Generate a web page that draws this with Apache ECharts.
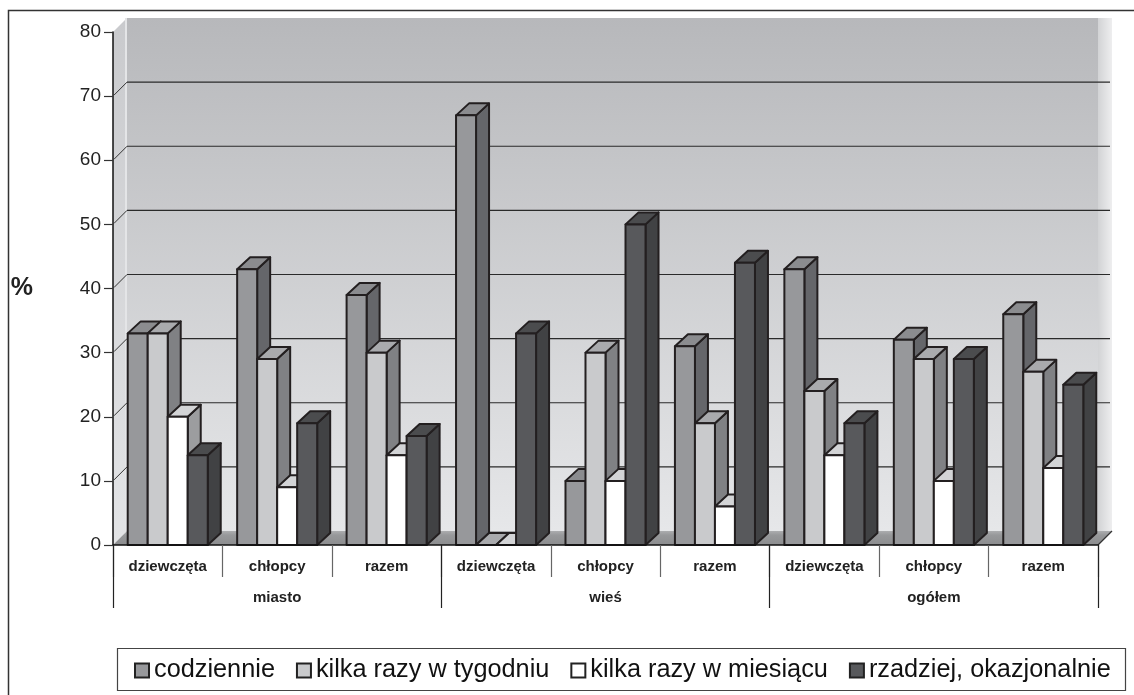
<!DOCTYPE html>
<html>
<head>
<meta charset="utf-8">
<script src="https://cdn.jsdelivr.net/npm/echarts@6/dist/echarts.min.js"></script>
<style>
html,body{margin:0;padding:0;background:#fff;}
#chart{width:1134px;height:695px;}
</style>
</head>
<body>
<div id="chart"></div>
<script>
// ---- data ----
const categories = ['dziewczęta','chłopcy','razem','dziewczęta','chłopcy','razem','dziewczęta','chłopcy','razem'];
const groups = ['miasto','wieś','ogółem'];
const seriesNames = ['codziennie','kilka razy w tygodniu','kilka razy w miesiącu','rzadziej, okazjonalnie'];
const codziennie = [33, 43, 39, 67, 10, 31, 43, 32, 36];
const kilkaTydzien = [33, 29, 30, 0, 30, 19, 24, 29, 27];
const kilkaMiesiac = [20, 9, 14, 0, 10, 6, 14, 10, 12];
const rzadziej = [14, 19, 17, 33, 50, 44, 19, 29, 25];
const yTicks = [0, 10, 20, 30, 40, 50, 60, 70, 80];

// ---- styling ----
const FONT = 'Liberation Sans, Arial, sans-serif';
const WDX = 14, WDY = -14;   // wall depth offset
const BDX = 13, BDY = -12;   // bar depth offset
const EDGE = '#231f20';
const faces = [
  {front:'#97989b', side:'#65666a', top:'#8b8c8f'},
  {front:'#c9cacc', side:'#808184', top:'#a9aaad'},
  {front:'#ffffff', side:'#9c9d9f', top:'#d3d4d6'},
  {front:'#58595c', side:'#414244', top:'#4b4c4e'}
];
const seriesData = [codziennie, kilkaTydzien, kilkaMiesiac, rzadziej];

const chart = echarts.init(document.getElementById('chart'), null, {renderer:'canvas'});

function barRender(sIdx) {
  return function (params, api) {
    const ci = api.value(0), v = api.value(1);
    const base = api.coord([ci, 0]);
    const top = api.coord([ci, v]);
    const catW = api.size([1, 0])[0];
    const bw = catW * 0.1828;
    const x0 = base[0] - 2 * bw + sIdx * bw;
    const x1 = x0 + bw;
    const yt = top[1], yb = base[1];
    const c = faces[sIdx];
    const st = {stroke: EDGE, lineWidth: 2, lineJoin: 'round'};
    return {
      type: 'group',
      children: [
        {type:'polygon', shape:{points:[[x1,yt],[x1+BDX,yt+BDY],[x1+BDX,yb+BDY],[x1,yb]]},
         style:Object.assign({fill:c.side}, st)},
        {type:'polygon', shape:{points:[[x0,yt],[x1,yt],[x1+BDX,yt+BDY],[x0+BDX,yt+BDY]]},
         style:Object.assign({fill:c.top}, st)},
        {type:'rect', shape:{x:x0, y:yt, width:bw, height:yb-yt},
         style:Object.assign({fill:c.front}, st)}
      ]
    };
  };
}

function wallRender(params, api) {
  const cs = params.coordSys;
  const L = cs.x, R = cs.x + cs.width, T = cs.y, B = cs.y + cs.height;
  const children = [];
  children.push({type:'rect', shape:{x:L+WDX, y:T+WDY, width:cs.width, height:cs.height},
    style:{fill:new echarts.graphic.LinearGradient(0,0,0,1,[{offset:0,color:'#b7b8bb'},{offset:1,color:'#e6e7e9'}])}});
  children.push({type:'rect', shape:{x:R, y:T+WDY, width:WDX, height:cs.height},
    style:{fill:new echarts.graphic.LinearGradient(0,0,1,0,[{offset:0,color:'#d2d3d5'},{offset:1,color:'#eeeeef'}])}});
  children.push({type:'polygon', shape:{points:[[L,T],[L+WDX,T+WDY],[L+WDX,B+WDY],[L,B]]},
    style:{fill:new echarts.graphic.LinearGradient(0,0,0,1,[{offset:0,color:'#c9cacd'},{offset:1,color:'#e3e4e6'}])}});
  children.push({type:'line', shape:{x1:L+WDX-1, y1:T+WDY, x2:L+WDX-1, y2:B+WDY},
    style:{stroke:'#e4e5e7', lineWidth:2}});
  yTicks.forEach(function (t) {
    if (t === 0 || t === 80) return;
    const y = api.coord([0, t])[1];
    children.push({type:'line', shape:{x1:L+WDX, y1:y+WDY, x2:R+WDX-2, y2:y+WDY},
      style:{stroke:'#2a2a2a', lineWidth:1.2}});
    children.push({type:'line', shape:{x1:L+1, y1:y-1, x2:L+WDX, y2:y+WDY},
      style:{stroke:'#333', lineWidth:1}});
  });
  children.push({type:'polygon', shape:{points:[[L,B],[R,B],[R+WDX,B+WDY],[L+WDX,B+WDY]]},
    style:{fill:new echarts.graphic.LinearGradient(0,0,0,1,[{offset:0,color:'#acadaf'},{offset:0.3,color:'#97989a'},{offset:1,color:'#8c8d8f'}])}});
  children.push({type:'line', shape:{x1:R, y1:B, x2:R+WDX, y2:B+WDY}, style:{stroke:'#333', lineWidth:1.2}});
  return {type:'group', children:children};
}

const series = [{
  type:'custom', name:'_walls', renderItem: wallRender, data:[[0,0]], silent:true,
  xAxisIndex:0, yAxisIndex:0, z:1, legendHoverLink:false, tooltip:{show:false}
}];
seriesData.forEach(function (arr, s) {
  series.push({
    type:'custom', name: seriesNames[s], renderItem: barRender(s),
    xAxisIndex:0, yAxisIndex:0, z: 3 + s,
    itemStyle:{color: faces[s].front, borderColor:'#222', borderWidth:1.5},
    encode:{x:0, y:1},
    data: arr.map(function (v, i) { return [i, v]; })
  });
});

const option = {
  animation:false,
  backgroundColor:'#ffffff',
  grid:{left:113, right:36, top:32, bottom:150},
  xAxis:[{
    type:'category', data:categories, position:'bottom', z:10,
    axisLine:{show:true, lineStyle:{color:'#111', width:1.5}},
    axisTick:{show:true, interval:0, length:32, lineStyle:{color:'#666', width:1.2}},
    axisLabel:{interval:0, margin:14, fontSize:15, fontWeight:'bold', color:'#222', fontFamily:FONT},
    splitLine:{show:false}
  },{
    type:'category', data:groups, position:'bottom', z:10,
    axisLine:{show:false},
    axisTick:{show:true, interval:0, length:63, lineStyle:{color:'#222', width:1.2}},
    axisLabel:{interval:0, margin:45, fontSize:15, fontWeight:'bold', color:'#222', fontFamily:FONT},
    splitLine:{show:false}
  }],
  yAxis:{
    type:'value', min:0, max:80, interval:10, z:10,
    name:'%', nameLocation:'middle', nameRotate:0, nameGap:80,
    nameTextStyle:{fontSize:25, fontWeight:'bold', color:'#222', fontFamily:FONT},
    axisLine:{show:true, lineStyle:{color:'#111', width:1.5}},
    axisTick:{show:true, length:9, lineStyle:{color:'#333', width:1.2}},
    axisLabel:{fontSize:19, margin:12, color:'#222', fontFamily:FONT},
    splitLine:{show:false}
  },
  legend:{
    data:seriesNames, left:129, top:653, icon:'rect', itemWidth:14, itemHeight:14, itemGap:21,
    textStyle:{fontSize:25.3, color:'#111', fontFamily:FONT},
    selectedMode:false
  },
  graphic:[
    {type:'rect', left:6, top:8, shape:{width:1200, height:720}, style:{fill:'none', stroke:'#333', lineWidth:1.5}, silent:true},
    {type:'rect', left:115, top:646, shape:{width:1008, height:42}, style:{fill:'none', stroke:'#444', lineWidth:1.2}, silent:true}
  ],
  series:series
};
chart.setOption(option);
</script>
</body>
</html>
